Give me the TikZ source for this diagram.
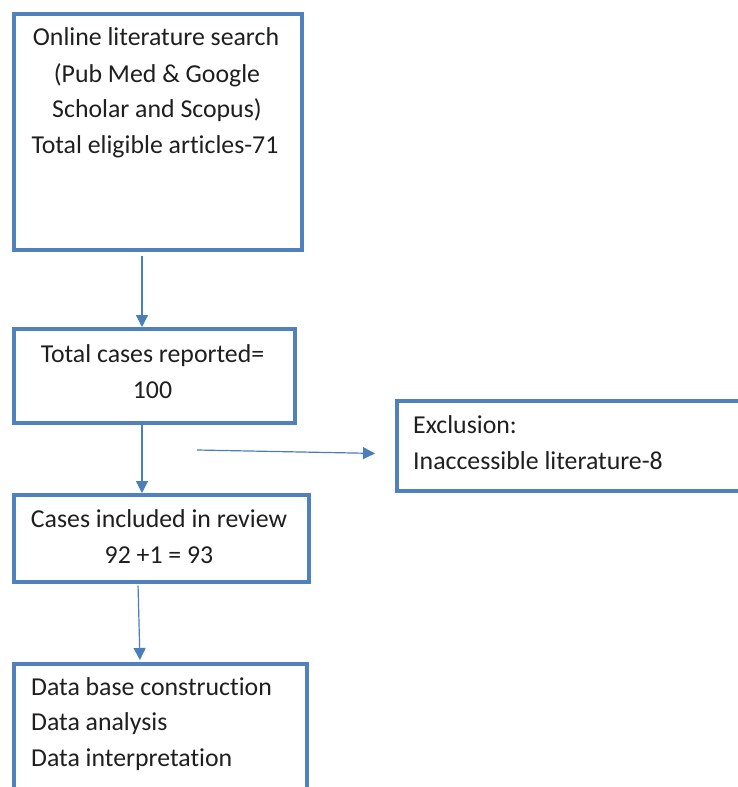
\documentclass[tikz,border=0pt]{standalone}
\usepackage{fontspec}
\setmainfont{Carlito}[Ligatures={NoCommon,NoRequired,NoContextual}]
\usetikzlibrary{arrows.meta}
\definecolor{boxblue}{HTML}{4F81BD}
\definecolor{arrblue}{HTML}{4A7EBB}
\begin{document}
\begin{tikzpicture}[x=1pt,y=-1pt,
  box/.style={draw=boxblue, line width=3.6pt, fill=white, inner sep=0pt, anchor=north west},
  arr/.style={draw=arrblue, line width=1.2pt, -{Triangle[width=12pt,length=12pt]}},
  txt/.style={inner sep=0pt, anchor=base, font=\fontsize{25.8}{30}\selectfont, text=black!88},
  ltxt/.style={txt, anchor=base west}]
\useasboundingbox (0,0) rectangle (738,787);
\clip (0,0) rectangle (738,787);
% boxes
\node[box, minimum width=288pt, minimum height=236pt] (b1) at (12,12) {};
\node[box, minimum width=281pt, minimum height=94pt]  (b2) at (12,327) {};
\node[box, minimum width=295pt, minimum height=87pt]  (b3) at (12,493) {};
\node[box, minimum width=293pt, minimum height=160pt] (b4) at (12,662) {};
\node[box, minimum width=365pt, minimum height=90pt]  (ex) at (395,399) {};
% texts
\node[txt] (t1a) at (156,45)  {Online literature search};
\node[txt] (t1b) at (157,82)  {(Pub Med \& Google};
\node[txt] (t1c) at (157,117) {Scholar and Scopus)};
\node[txt] (t1d) at (155,153) {Total eligible articles-71};
\node[txt] (t2a) at (152.5,362) {Total cases reported=};
\node[txt] (t2b) at (152.5,398) {100};
\node[txt] (t3a) at (159,527) {Cases included in review};
\node[txt] (t3b) at (159,563) {92 +1 = 93};
\node[ltxt] (t4a) at (31,695) {Data base construction};
\node[ltxt] (t4b) at (31,730) {Data analysis};
\node[ltxt] (t4c) at (31,766) {Data interpretation};
\node[ltxt] (tea) at (413,433) {Exclusion:};
\node[ltxt] (teb) at (413,469) {Inaccessible literature-8};
% connectors
\coordinate (c1) at (142,0);
\coordinate (c3a) at (138,0);
\coordinate (c3b) at (140,0);
\coordinate (h0) at (197,450);
\draw[arr, shorten <=4pt] (b1.south -| c1) -- (b2.north -| c1);
\draw[arr, shorten <=-3pt] (b2.south -| c1) -- (b3.north -| c1);
\draw[arr, shorten <=2pt, shorten >=2pt] (b3.south -| c3a) -- (b4.north -| c3b);
\draw[arr, shorten >=20pt] (h0) -- ([yshift=-8pt]ex.west);
\end{tikzpicture}
\end{document}
